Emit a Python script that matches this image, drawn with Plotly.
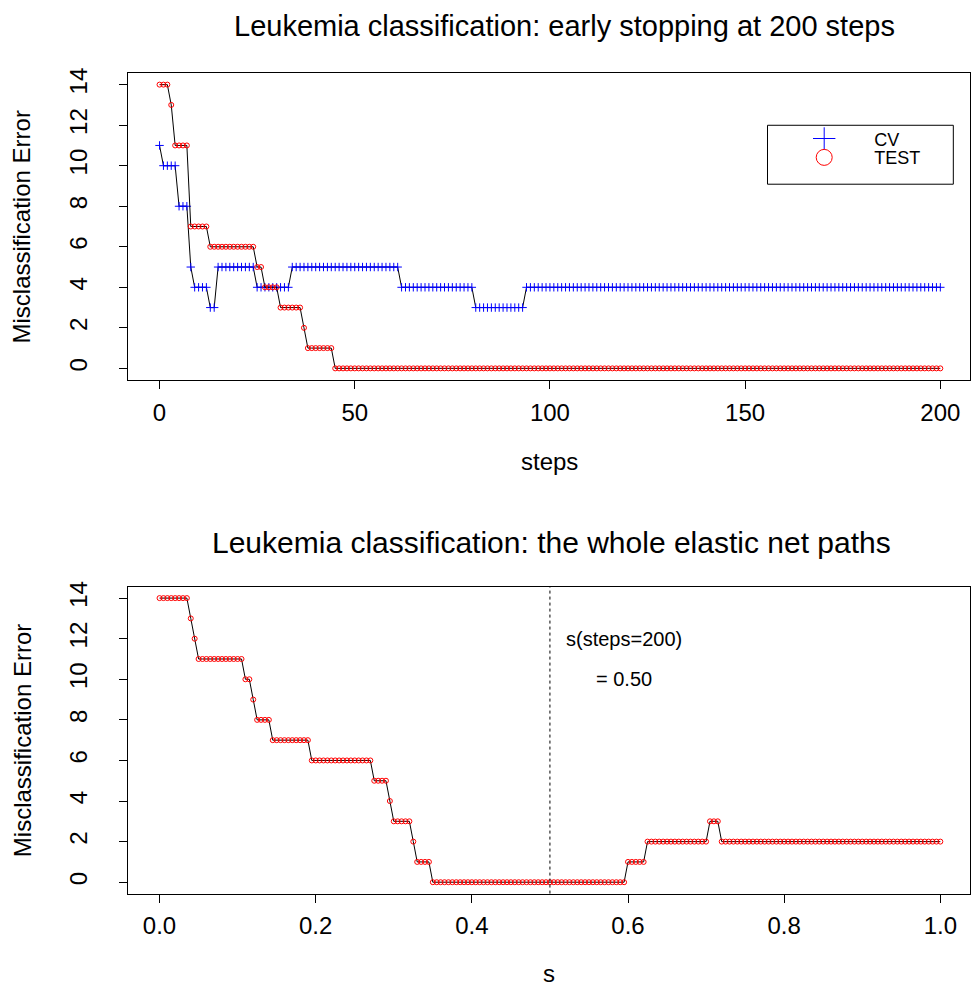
import numpy as np
import plotly.graph_objects as go

W, H = 971, 987
FONT = "Liberation Sans, Arial, Helvetica, sans-serif"

# ---- data -------------------------------------------------------------
steps = list(range(201))

cv_error = ([11] + [10] * 4 + [8] * 3 + [5] + [4] * 4 + [3] * 2 + [5] * 10
            + [4] * 9 + [5] * 28 + [4] * 19 + [3] * 13 + [4] * 107)

test_error = ([14] * 3 + [13] + [11] * 4 + [7] * 5 + [6] * 12 + [5] * 2
              + [4] * 4 + [3] * 6 + [2] + [1] * 7 + [0] * 156)

s_grid = np.linspace(0, 1, 201)

path_test_error = ([14] * 8 + [13] + [12] + [11] * 12 + [10] * 2 + [9]
                   + [8] * 4 + [7] * 10 + [6] * 16 + [5] * 4 + [4] + [3] * 5
                   + [2] + [1] * 4 + [0] * 50 + [1] * 5 + [2] * 16 + [3] * 3
                   + [2] * 57)

s_stop = 0.50
stop_steps = 200

steps_ticks = [0, 50, 100, 150, 200]
s_ticks = [0.0, 0.2, 0.4, 0.6, 0.8, 1.0]
s_tick_text = ["0.0", "0.2", "0.4", "0.6", "0.8", "1.0"]
err_ticks = [0, 2, 4, 6, 8, 10, 12, 14]

# ---- layout helpers (pixel -> paper) -----------------------------------
def px(x):
    return x / W


def py(y):
    return 1 - y / H


left, right = 128, 971
top1, bot1 = 67.7, 376.0
top2, bot2 = 584.3, 893.0

fig = go.Figure()

line_style = dict(color="black", width=1)
cv_marker = dict(symbol="cross-thin-open", size=6, color="#0000FF",
                 line=dict(color="#0000FF", width=1))
test_marker = dict(symbol="circle-open", size=5, color="#FF0000",
                   line=dict(color="#FF0000", width=1))

# top panel: CV and test error along the first 200 steps
fig.add_trace(go.Scatter(x=steps, y=cv_error, mode="lines", line=line_style,
                         showlegend=False, hoverinfo="skip", xaxis="x", yaxis="y"))
fig.add_trace(go.Scatter(x=steps, y=cv_error, mode="markers", name="CV",
                         marker=cv_marker, showlegend=False, xaxis="x", yaxis="y"))
fig.add_trace(go.Scatter(x=steps, y=test_error, mode="lines", line=line_style,
                         showlegend=False, hoverinfo="skip", xaxis="x", yaxis="y"))
fig.add_trace(go.Scatter(x=steps, y=test_error, mode="markers", name="TEST",
                         marker=test_marker, showlegend=False, xaxis="x", yaxis="y"))

# legend keys (larger symbols than the plotted points), one legend per row
fig.add_trace(go.Scatter(x=[None], y=[None], mode="markers", name="CV",
                         marker=dict(cv_marker, size=16), legend="legend",
                         xaxis="x", yaxis="y"))
fig.add_trace(go.Scatter(x=[None], y=[None], mode="markers", name="TEST",
                         marker=dict(test_marker, size=16), legend="legend2",
                         xaxis="x", yaxis="y"))

# bottom panel: test error along the whole path
fig.add_trace(go.Scatter(x=s_grid, y=path_test_error, mode="lines", line=line_style,
                         showlegend=False, hoverinfo="skip", xaxis="x2", yaxis="y2"))
fig.add_trace(go.Scatter(x=s_grid, y=path_test_error, mode="markers", name="TEST",
                         marker=test_marker, showlegend=False, xaxis="x2", yaxis="y2"))

tick_font = dict(family=FONT, size=24, color="black")
axis_common = dict(showline=True, mirror=True, linecolor="black", linewidth=1,
                   ticks="outside", ticklen=8, tickwidth=1, tickcolor="black",
                   showgrid=False, zeroline=False, tickfont=tick_font)

x_lo = -31.7 / 3.908
x_hi = 200 + (right - 941.3) / 3.908

legend_common = dict(xanchor="left", yanchor="top", bgcolor="rgba(0,0,0,0)",
                     borderwidth=0, itemwidth=90,
                     font=dict(family=FONT, size=18, color="black"))

fig.update_layout(
    width=W, height=H,
    margin=dict(l=0, r=0, t=0, b=0),
    paper_bgcolor="white", plot_bgcolor="white",
    font=dict(family=FONT, color="black"),
    xaxis=dict(domain=[px(left), px(right)], range=[x_lo, x_hi],
               tickvals=steps_ticks, anchor="y", ticklabelstandoff=3, **axis_common),
    yaxis=dict(domain=[py(bot1), py(top1)], range=[-0.56, 14.56],
               tickvals=err_ticks, tickangle=-90, anchor="x", ticklabelstandoff=22,
               **axis_common),
    xaxis2=dict(domain=[px(left), px(right)], range=[x_lo / 200, x_hi / 200],
                tickvals=s_ticks, ticktext=s_tick_text, anchor="y2",
                ticklabelstandoff=3, **axis_common),
    yaxis2=dict(domain=[py(bot2), py(top2)], range=[-0.56, 14.56],
                tickvals=err_ticks, tickangle=-90, anchor="x2", ticklabelstandoff=22,
                **axis_common),
    legend=dict(x=px(775), y=py(115), **legend_common),
    legend2=dict(x=px(775), y=py(134), **legend_common),
    showlegend=True,
)

# legend frame
fig.add_shape(type="rect", xref="paper", yref="paper",
              x0=px(768.3), x1=px(954.3), y0=py(179.3), y1=py(120),
              line=dict(color="black", width=1), fillcolor="rgba(0,0,0,0)")

# chosen stopping point on the whole path
fig.add_shape(type="line", xref="x2", yref="y2 domain", x0=s_stop, x1=s_stop,
              y0=0, y1=1, line=dict(color="black", width=1, dash="dot"))

annotations = [
    dict(text=f"Leukemia classification: early stopping at {stop_steps} steps",
         x=px(565), y=py(20), font=dict(size=29)),
    dict(text="Leukemia classification: the whole elastic net paths",
         x=px(552), y=py(540), font=dict(size=30)),
    dict(text="steps", x=px(550), y=py(458), font=dict(size=24)),
    dict(text="s", x=px(550), y=py(973), font=dict(size=24)),
    dict(text="Misclassification Error", x=px(22), y=py((top1 + bot1) / 2),
         textangle=-90, font=dict(size=24)),
    dict(text="Misclassification Error", x=px(22), y=py((top2 + bot2) / 2),
         textangle=-90, font=dict(size=24)),
]
for a in annotations:
    a.setdefault("xref", "paper")
    a.setdefault("yref", "paper")
    a.update(showarrow=False, xanchor="center", yanchor="middle")
    a["font"] = dict(family=FONT, color="black", **a["font"])
    fig.add_annotation(**a)

fig.add_annotation(text=f"s(steps={stop_steps})", x=0.595, y=12, xref="x2", yref="y2",
                   showarrow=False, font=dict(family=FONT, size=20, color="black"))
fig.add_annotation(text=f"= {s_stop:.2f}", x=0.595, y=10, xref="x2", yref="y2",
                   showarrow=False, font=dict(family=FONT, size=20, color="black"))

fig.write_html("out.html")
